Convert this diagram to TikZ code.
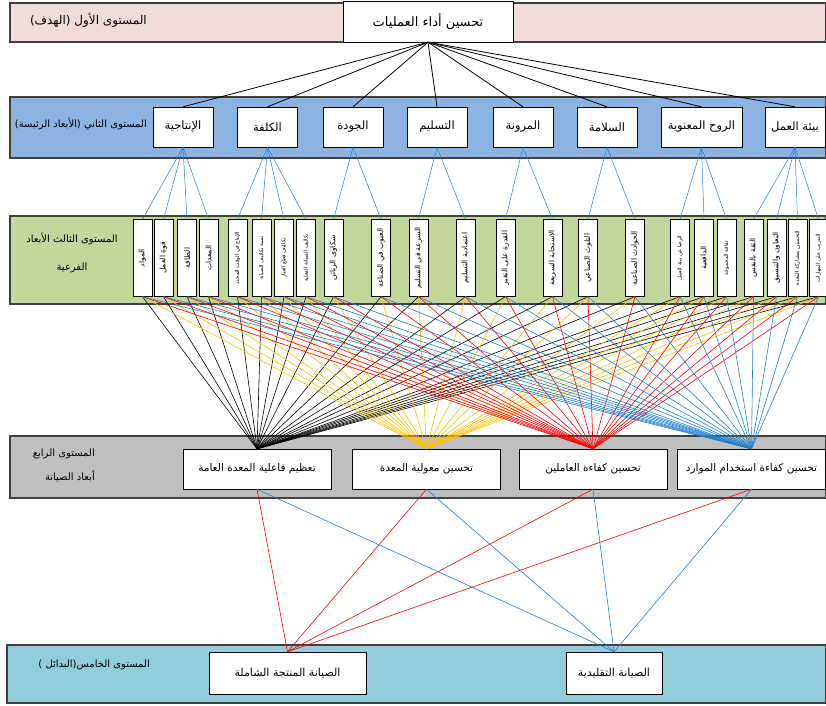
\documentclass[tikz,border=0pt]{standalone}
\usepackage{fontspec}
\newfontfamily\arabicfont[Script=Arabic]{DejaVu Sans}
\TeXXeTstate=1
\newcommand{\artext}[1]{{\arabicfont\beginR #1\endR}}
\definecolor{goalpink}{HTML}{F2DCDB}
\definecolor{mainblue}{HTML}{8DB3E2}
\definecolor{subgreen}{HTML}{C3D69B}
\definecolor{dimgray}{HTML}{BFBFBF}
\definecolor{altcyan}{HTML}{92CDDC}
\definecolor{barline}{HTML}{404040}
\definecolor{linkblue}{HTML}{1F7FD0}
\definecolor{linkyellow}{HTML}{FFC000}
\tikzset{
  bar/.style={draw=barline, line width=1.2pt},
  lvl/.style={font=\fontsize{10}{12}\selectfont, inner sep=0pt},
  goal/.style={draw, fill=white, minimum width=170pt, minimum height=41pt, font=\fontsize{13}{15}\selectfont},
  main/.style={draw, fill=white, minimum width=60pt, minimum height=40pt, inner sep=1pt, font=\fontsize{11.5}{13}\selectfont},
  sub/.style={draw, fill=white, rotate=90, minimum width=77pt, minimum height=19pt, inner sep=1pt, font=\fontsize{7.5}{8}\selectfont},
  subsmall/.style={sub, font=\fontsize{5.3}{6}\selectfont},
  dim/.style={draw, fill=white, minimum width=148pt, minimum height=40pt, inner sep=1pt, font=\fontsize{10.5}{12}\selectfont},
  alt/.style={draw, fill=white, minimum height=42pt, inner sep=1pt, font=\fontsize{11}{13}\selectfont}
}
\begin{document}
\begin{tikzpicture}[x=1pt, y=-1pt]
  \useasboundingbox (0,0) rectangle (826,705);
  % level bars
  \draw[bar, fill=goalpink] (10,3) rectangle (826,42);
  \draw[bar, fill=mainblue] (10,97) rectangle (826,158);
  \draw[bar, fill=subgreen] (10,216) rectangle (826,304);
  \draw[bar, fill=dimgray] (10,436) rectangle (826,498);
  \draw[bar, fill=altcyan] (7,645) rectangle (826,703);
  % level labels
  \draw
    (147,20) node[lvl, anchor=east, font=\fontsize{12}{14}\selectfont] (l1){\artext{المستوى الأول (الهدف)}}
    (147,124) node[lvl, anchor=east] (l2){\artext{المستوى الثاني (الأبعاد الرئيسة)}}
    (72,239) node[lvl] (l3a){\artext{المستوى الثالث الأبعاد}}
    (72,268) node[lvl] (l3b){\artext{الفرعية}}
    (95,454) node[lvl, anchor=east] (l4a){\artext{المستوى الرابع}}
    (95,476) node[lvl, anchor=east] (l4b){\artext{أبعاد الصيانة}}
    (150,665) node[lvl, anchor=east] (l5){\artext{المستوى الخامس(البدائل )}};
  % level 1 and 2
  \draw
    (428,21.5) node[goal] (g){\artext{تحسين أداء العمليات}}
    (183,127) node[main] (d1){\artext{الإنتاجية}}
    (267.5,127) node[main] (d2){\artext{الكلفة}}
    (353,127) node[main] (d3){\artext{الجودة}}
    (437,127) node[main] (d4){\artext{التسليم}}
    (523,127) node[main] (d5){\artext{المرونة}}
    (607,127) node[main] (d6){\artext{السلامة}}
    (701.5,127) node[main, minimum width=81pt] (d7){\artext{الروح المعنوية}}
    (795,127) node[main] (d8){\artext{بيئة العمل}};
  % level 3
  \draw
    (142.5,258) node[sub] (c1){\artext{المواد}}
    (163.5,258) node[sub] (c2){\artext{قوة العمل}}
    (187,258) node[sub] (c3){\artext{الطاقة}}
    (208.5,258) node[sub] (c4){\artext{المعدات}}
    (237.5,258) node[subsmall] (c5){\artext{الإنتاج في الوقت المحدد}}
    (261.5,258) node[subsmall] (c6){\artext{نسبة تكاليف الصيانة}}
    (284,258) node[subsmall] (c7){\artext{تكاليف قطع الغيار}}
    (306,258) node[subsmall] (c8){\artext{تكاليف الصيانة الفعلية}}
    (333.5,258) node[sub] (c9){\artext{شكاوى الزبائن}}
    (381,258) node[sub] (c10){\artext{العيوب في الصناعة}}
    (418.5,258) node[sub] (c11){\artext{السرعة في التسليم}}
    (465.5,258) node[sub] (c12){\artext{اعتمادية التسليم}}
    (505.5,258) node[sub] (c13){\artext{القدرة على التغير}}
    (552.5,258) node[sub] (c14){\artext{الاستجابة السريعة}}
    (588,258) node[sub] (c15){\artext{التلوث الصناعي}}
    (635,258) node[sub] (c16){\artext{الحوادث الصناعية}}
    (680,258) node[subsmall] (c17){\artext{الرضا عن بيئة العمل}}
    (704,258) node[sub] (c18){\artext{الدافعية}}
    (726.5,258) node[subsmall] (c19){\artext{ثقافة المجموعة}}
    (753.5,258) node[sub] (c20){\artext{الثقة بالنفس}}
    (776.5,258) node[sub] (c21){\artext{التعاون والتنسيق}}
    (797.5,258) node[subsmall] (c22){\artext{التحسين بمشاركة المعدة}}
    (818.5,258) node[subsmall] (c23){\artext{التدريب على المهارات}};
  % level 4 and 5
  \draw
    (257,469) node[dim] (m1){\artext{تعظيم فاعلية المعدة العامة}}
    (426.5,469) node[dim] (m2){\artext{تحسين معولية المعدة}}
    (593,469) node[dim] (m3){\artext{تحسين كفاءة العاملين}}
    (751.5,469) node[dim] (m4){\artext{تحسين كفاءة استخدام الموارد}}
    (287.5,673) node[alt, minimum width=157pt] (a1){\artext{الصيانة المنتجة الشاملة}}
    (614,673) node[alt, minimum width=96pt] (a2){\artext{الصيانة التقليدية}};
  \begin{scope}[-, line width=0.8pt]
    \draw (g.south) to (d1.north);
    \draw (g.south) to (d2.north);
    \draw (g.south) to (d3.north);
    \draw (g.south) to (d4.north);
    \draw (g.south) to (d5.north);
    \draw (g.south) to (d6.north);
    \draw (g.south) to (d7.north);
    \draw (g.south) to (d8.north);
  \end{scope}
  \begin{scope}[-, linkblue, line width=0.5pt]
    \draw (d1.south) to (c1.east);
    \draw (d1.south) to (c2.east);
    \draw (d1.south) to (c3.east);
    \draw (d1.south) to (c4.east);
    \draw (d2.south) to (c5.east);
    \draw (d2.south) to (c6.east);
    \draw (d2.south) to (c7.east);
    \draw (d2.south) to (c8.east);
    \draw (d3.south) to (c9.east);
    \draw (d3.south) to (c10.east);
    \draw (d4.south) to (c11.east);
    \draw (d4.south) to (c12.east);
    \draw (d5.south) to (c13.east);
    \draw (d5.south) to (c14.east);
    \draw (d6.south) to (c15.east);
    \draw (d6.south) to (c16.east);
    \draw (d7.south) to (c17.east);
    \draw (d7.south) to (c18.east);
    \draw (d7.south) to (c19.east);
    \draw (d8.south) to (c20.east);
    \draw (d8.south) to (c21.east);
    \draw (d8.south) to (c22.east);
    \draw (d8.south) to (c23.east);
  \end{scope}
  \begin{scope}[-, black, line width=0.6pt]
    \draw (c1.west) to (m1.north);
    \draw (c2.west) to (m1.north);
    \draw (c3.west) to (m1.north);
    \draw (c4.west) to (m1.north);
    \draw (c5.west) to (m1.north);
    \draw (c6.west) to (m1.north);
    \draw (c7.west) to (m1.north);
    \draw (c8.west) to (m1.north);
    \draw (c9.west) to (m1.north);
    \draw (c10.west) to (m1.north);
    \draw (c11.west) to (m1.north);
    \draw (c12.west) to (m1.north);
    \draw (c13.west) to (m1.north);
    \draw (c14.west) to (m1.north);
    \draw (c15.west) to (m1.north);
    \draw (c16.west) to (m1.north);
    \draw (c17.west) to (m1.north);
    \draw (c18.west) to (m1.north);
    \draw (c19.west) to (m1.north);
    \draw (c20.west) to (m1.north);
    \draw (c21.west) to (m1.north);
    \draw (c22.west) to (m1.north);
    \draw (c23.west) to (m1.north);
  \end{scope}
  \begin{scope}[-, linkyellow, line width=0.6pt]
    \draw (c1.west) to (m2.north);
    \draw (c2.west) to (m2.north);
    \draw (c3.west) to (m2.north);
    \draw (c4.west) to (m2.north);
    \draw (c5.west) to (m2.north);
    \draw (c6.west) to (m2.north);
    \draw (c7.west) to (m2.north);
    \draw (c8.west) to (m2.north);
    \draw (c9.west) to (m2.north);
    \draw (c10.west) to (m2.north);
    \draw (c11.west) to (m2.north);
    \draw (c12.west) to (m2.north);
    \draw (c13.west) to (m2.north);
    \draw (c14.west) to (m2.north);
    \draw (c15.west) to (m2.north);
    \draw (c16.west) to (m2.north);
    \draw (c17.west) to (m2.north);
    \draw (c18.west) to (m2.north);
    \draw (c19.west) to (m2.north);
    \draw (c20.west) to (m2.north);
    \draw (c21.west) to (m2.north);
    \draw (c22.west) to (m2.north);
    \draw (c23.west) to (m2.north);
  \end{scope}
  \begin{scope}[-, red, line width=0.6pt]
    \draw (c1.west) to (m3.north);
    \draw (c2.west) to (m3.north);
    \draw (c3.west) to (m3.north);
    \draw (c4.west) to (m3.north);
    \draw (c5.west) to (m3.north);
    \draw (c6.west) to (m3.north);
    \draw (c7.west) to (m3.north);
    \draw (c8.west) to (m3.north);
    \draw (c9.west) to (m3.north);
    \draw (c10.west) to (m3.north);
    \draw (c11.west) to (m3.north);
    \draw (c12.west) to (m3.north);
    \draw (c13.west) to (m3.north);
    \draw (c14.west) to (m3.north);
    \draw (c15.west) to (m3.north);
    \draw (c16.west) to (m3.north);
    \draw (c17.west) to (m3.north);
    \draw (c18.west) to (m3.north);
    \draw (c19.west) to (m3.north);
    \draw (c20.west) to (m3.north);
    \draw (c21.west) to (m3.north);
    \draw (c22.west) to (m3.north);
    \draw (c23.west) to (m3.north);
  \end{scope}
  \begin{scope}[-, linkblue, line width=0.6pt]
    \draw (c1.west) to (m4.north);
    \draw (c2.west) to (m4.north);
    \draw (c3.west) to (m4.north);
    \draw (c4.west) to (m4.north);
    \draw (c5.west) to (m4.north);
    \draw (c6.west) to (m4.north);
    \draw (c7.west) to (m4.north);
    \draw (c8.west) to (m4.north);
    \draw (c9.west) to (m4.north);
    \draw (c10.west) to (m4.north);
    \draw (c11.west) to (m4.north);
    \draw (c12.west) to (m4.north);
    \draw (c13.west) to (m4.north);
    \draw (c14.west) to (m4.north);
    \draw (c15.west) to (m4.north);
    \draw (c16.west) to (m4.north);
    \draw (c17.west) to (m4.north);
    \draw (c18.west) to (m4.north);
    \draw (c19.west) to (m4.north);
    \draw (c20.west) to (m4.north);
    \draw (c21.west) to (m4.north);
    \draw (c22.west) to (m4.north);
    \draw (c23.west) to (m4.north);
  \end{scope}
  \begin{scope}[-, line width=0.6pt]
    \draw[red] (m1.south) to (a1.north);
    \draw[red] (m2.south) to (a1.north);
    \draw[red] (m3.south) to (a1.north);
    \draw[red] (m4.south) to (a1.north);
    \draw[linkblue] (m1.south) to (a2.north);
    \draw[linkblue] (m2.south) to (a2.north);
    \draw[linkblue] (m3.south) to (a2.north);
    \draw[linkblue] (m4.south) to (a2.north);
  \end{scope}
\end{tikzpicture}
\end{document}
